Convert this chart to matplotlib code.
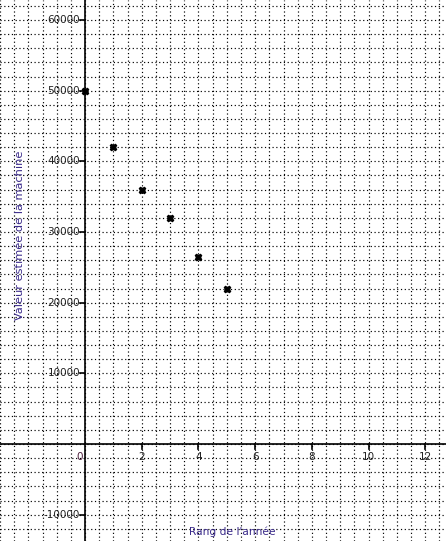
import matplotlib
matplotlib.use("Agg")
import matplotlib.pyplot as plt
import numpy as np

rang = [0, 1, 2, 3, 4, 5]
valeur = [50000, 42000, 36000, 32000, 26500, 22000]
xticks = [2, 4, 6, 8, 10, 12]
yticks = [-10000, 10000, 20000, 30000, 40000, 50000, 60000]

fig = plt.figure(figsize=(4.46, 5.41), dpi=100)
ax = fig.add_axes([0, 0, 1, 1])
xmin, xmax = -3.0, 12.73
ymin, ymax = -13720, 62830
ax.set_xlim(xmin, xmax)
ax.set_ylim(ymin, ymax)
for s in ax.spines.values():
    s.set_visible(False)
ax.set_xticks([]); ax.set_yticks([])

# dotted grid
for gx in np.arange(-3.0, 13.0, 0.5):
    ax.axvline(gx, color='black', lw=0.85, ls=(0, (1, 2.2)), zorder=1, snap=True)
for gy in np.arange(-12000, 64000, 2000):
    ax.axhline(gy, color='black', lw=0.85, ls=(0, (1, 2.2)), zorder=1, snap=True)

# axes through origin
ax.axhline(0, color='black', lw=1.2, zorder=2)
ax.axvline(0, color='black', lw=1.2, zorder=2)

dx = (xmax - xmin) / 446
dy = (ymax - ymin) / 541
for t in xticks:
    ax.plot([t, t], [0, -5 * dy], color='black', lw=1.2, zorder=2)
    ax.text(t, -8 * dy, str(t), ha='center', va='top', fontsize=7.5, color='#222222')
ax.text(-2 * dx, -8 * dy, '0', ha='right', va='top', fontsize=7.5, color='#4a1a3a')
for t in yticks:
    ax.plot([-5 * dx, 0], [t, t], color='black', lw=1.2, zorder=2)
    ax.text(-5 * dx, t, str(t), ha='right', va='center', fontsize=7.5, color='#222222')

ax.plot(rang, valeur, ls='none', marker='X', markersize=4.5, color='black', zorder=3)

title_col = '#3a2a8a'
ax.text(xmin + 232 * dx, ymax - 532 * dy, "Rang de l'année", ha='center', va='center',
        fontsize=7.7, color=title_col)
ax.text(xmin + 20 * dx, ymax - 235 * dy, "Valeur estimée de la machine", ha='center', va='center',
        rotation=90, fontsize=8.2, color=title_col)

fig.savefig('out.png', dpi=100)
